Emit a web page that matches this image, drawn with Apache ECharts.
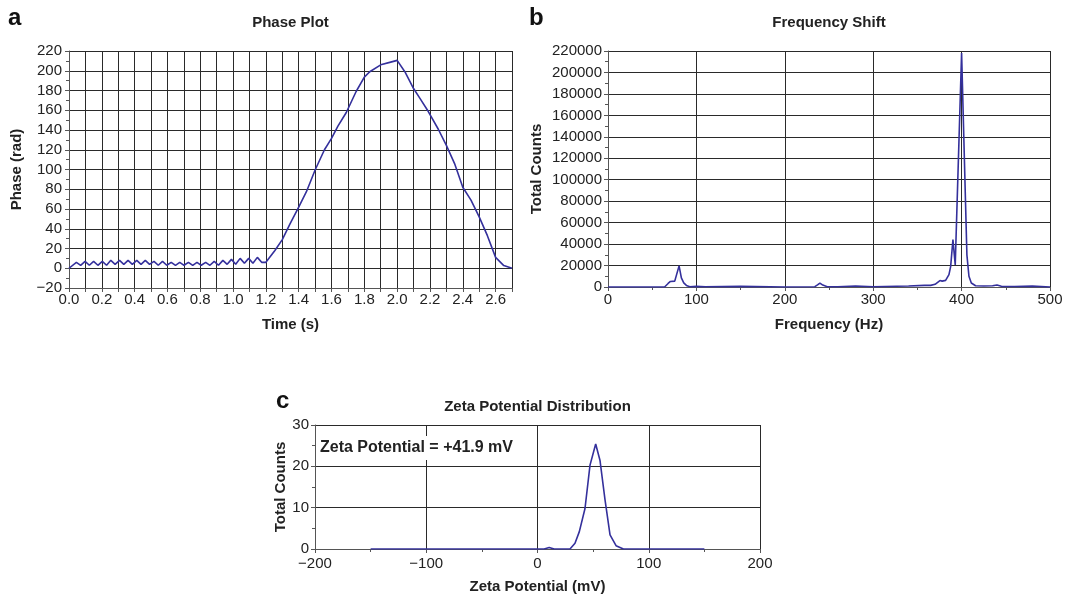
<!DOCTYPE html>
<html>
<head>
<meta charset="utf-8">
<script src="https://cdn.jsdelivr.net/npm/echarts@6/dist/echarts.min.js"></script>
<style>
html,body{margin:0;padding:0;background:#fff;}
#c{width:1071px;height:596px;}
</style>
</head>
<body>
<div id="c"></div>
<script>
// ---- Panel a: Phase Plot ----
const phaseTime = [0, 0.045,0.071, 0.098,0.124, 0.150,0.176, 0.203,0.229, 0.255,0.281, 0.308,0.334, 0.360,0.386, 0.413,0.439, 0.465,0.491, 0.518,0.544, 0.570,0.596, 0.623,0.649, 0.675,0.701, 0.728,0.754, 0.780,0.806, 0.833,0.859, 0.885,0.911, 0.938,0.964, 0.990,1.016, 1.043,1.069, 1.095,1.121, 1.148,1.174, 1.200,
  1.255, 1.300, 1.347, 1.400, 1.447, 1.500, 1.557, 1.600, 1.639, 1.690, 1.750, 1.800, 1.833, 1.900, 1.955, 2.000,
  2.047, 2.100, 2.139, 2.190, 2.250, 2.300, 2.350, 2.400, 2.450, 2.500, 2.550, 2.600, 2.650, 2.700];
const phaseRad = [0, 6,3, 7,3, 7,3, 7,3, 8,4, 8,4, 8,4, 8,4, 8,4, 7,3, 7,3, 6,3, 6,3, 6,3, 6,3, 6,3, 7,3, 8,4, 9,4, 10,5, 10,5, 11,6, 6,
  18, 29, 45, 62, 77.5, 99.5, 120, 131.6, 144, 157.7, 179, 193.6, 199, 206, 208.5, 210.5,
  199, 182, 172, 158.7, 141, 124.5, 106, 82, 69, 52, 33, 11, 2.7, 0];

// ---- Panel b: Frequency Shift ----
const freqHz = [0, 50, 64, 68, 70.6, 72.8, 75.5, 80.4, 83, 85.7, 88.7, 92.5, 100, 110, 150, 200, 234, 237, 239.7, 243, 248, 260, 280, 282, 300, 340, 342,
  358, 365, 370, 375.5, 378, 381.9, 385.7, 387.6, 390.2, 392.8, 400, 406, 408.3, 411, 415.8, 425, 435, 440, 445, 460, 480, 500];
const freqCounts = [0, 0, 0, 3300, 5150, 3900, 5450, 19700, 8500, 3900, 1500, 300, 600, 200, 600, 0, 300, 2000, 3700, 1800, 300, 300, 1000, 300, 200, 1000, 300,
  1500, 1500, 2500, 6000, 5500, 6200, 11500, 19000, 44100, 20500, 218000, 30000, 10000, 3700, 1200, 1000, 1200, 1800, 600, 500, 800, 0];

// ---- Panel c: Zeta Potential Distribution ----
const zetaMv = [-150, 0, 6, 10.5, 15, 29.2, 33.7, 37.6, 42.7, 47.2, 52.3, 56.2, 60.7, 65.2, 70.6, 77.2, 150];
const zetaCounts = [0, 0, 0, 0.35, 0, 0, 1.4, 4.2, 9.8, 20.3, 25.4, 21.4, 11.9, 3.4, 0.8, 0, 0];

const titles = ['Phase Plot', 'Frequency Shift', 'Zeta Potential Distribution'];
const letters = ['a', 'b', 'c'];
const annotation = 'Zeta Potential = +41.9 mV';

const FONT = '"Liberation Sans", Arial, Helvetica, sans-serif';
const LINE = '#34309c';
const GRIDC = '#2a2a2a';
const AXISC = '#555';

function pairs(xs, ys){ return xs.map((x,i)=>[x, ys[i]]); }
function minus(v){ return String(v).replace('-', '\u2212'); }

function axisBase(){
  return {
    type:'value',
    axisLine:{show:true, onZero:false, lineStyle:{color:AXISC, width:1}},
    axisTick:{show:true, inside:false, length:4, lineStyle:{color:AXISC}},
    splitLine:{show:true, lineStyle:{color:GRIDC, width:1}},
    axisLabel:{color:'#222', fontSize:15, fontFamily:FONT},
    nameLocation:'middle',
    nameTextStyle:{fontSize:15, fontWeight:'bold', fontFamily:FONT, color:'#222'}
  };
}
function merge(a,b){
  const o = Object.assign({}, a);
  for (const k in b){
    if (b[k] && typeof b[k]==='object' && !Array.isArray(b[k]) && a[k] && typeof a[k]==='object') o[k] = Object.assign({}, a[k], b[k]);
    else o[k] = b[k];
  }
  return o;
}

const chart = echarts.init(document.getElementById('c'), null, {renderer:'canvas'});
const titleStyle = {fontSize:15, fontWeight:'bold', fontFamily:FONT, color:'#222'};
const letterStyle = {fontSize:24, fontWeight:'bold', fontFamily:FONT, color:'#111'};

chart.setOption({
  animation:false,
  backgroundColor:'#fff',
  title:[
    {text:titles[0], left:290.5, top:15.5, textAlign:'center', padding:0, textStyle:titleStyle},
    {text:titles[1], left:829, top:15.5, textAlign:'center', padding:0, textStyle:titleStyle},
    {text:titles[2], left:537.5, top:399.5, textAlign:'center', padding:0, textStyle:titleStyle},
    {text:letters[0], left:8, top:6, padding:0, textStyle:letterStyle},
    {text:letters[1], left:529, top:6, padding:0, textStyle:letterStyle},
    {text:letters[2], left:276, top:389, padding:0, textStyle:letterStyle},
    {text:annotation, left:316, top:436, padding:[4,4], backgroundColor:'#fff', z:10,
      textStyle:{fontSize:16, fontWeight:'bold', fontFamily:FONT, color:'#222'}}
  ],
  grid:[
    {left:69, top:51, width:443, height:237},
    {left:608, top:51, width:442, height:236},
    {left:315, top:425, width:445, height:124}
  ],
  xAxis:[
    merge(axisBase(), {gridIndex:0, min:0, max:2.7, interval:0.1, name:'Time (s)', nameGap:29,
      axisLabel:{margin:4, formatter:(v,i)=> (i%2===0 ? v.toFixed(1) : '')}}),
    merge(axisBase(), {gridIndex:1, min:0, max:500, interval:100, name:'Frequency (Hz)', nameGap:30,
      minorTick:{show:true, splitNumber:2, length:3, lineStyle:{color:AXISC}},
      axisLabel:{margin:5, formatter:v=>String(v)}}),
    merge(axisBase(), {gridIndex:2, min:-200, max:200, interval:100, name:'Zeta Potential (mV)', nameGap:30,
      minorTick:{show:true, splitNumber:2, length:3, lineStyle:{color:AXISC}},
      axisLabel:{margin:7, formatter:v=>minus(v)}})
  ],
  yAxis:[
    merge(axisBase(), {gridIndex:0, min:-20, max:220, interval:20, name:'Phase (rad)', nameGap:45,
      minorTick:{show:true, splitNumber:2, length:3, lineStyle:{color:AXISC}},
      axisLabel:{margin:7, formatter:v=>minus(v)}}),
    merge(axisBase(), {gridIndex:1, min:0, max:220000, interval:20000, name:'Total Counts', nameGap:64,
      minorTick:{show:true, splitNumber:2, length:3, lineStyle:{color:AXISC}},
      axisLabel:{margin:6, formatter:v=>String(v)}}),
    merge(axisBase(), {gridIndex:2, min:0, max:30, interval:10, name:'Total Counts', nameGap:26,
      minorTick:{show:true, splitNumber:2, length:3, lineStyle:{color:AXISC}},
      axisLabel:{margin:6, formatter:v=>String(v)}})
  ],
  series:[
    {type:'line', xAxisIndex:0, yAxisIndex:0, data:pairs(phaseTime, phaseRad), showSymbol:false, symbol:'none',
      lineStyle:{color:LINE, width:1.6}, z:5},
    {type:'line', xAxisIndex:1, yAxisIndex:1, data:pairs(freqHz, freqCounts), showSymbol:false, symbol:'none',
      lineStyle:{color:LINE, width:1.6}, z:5},
    {type:'line', xAxisIndex:2, yAxisIndex:2, data:pairs(zetaMv, zetaCounts), showSymbol:false, symbol:'none',
      lineStyle:{color:LINE, width:1.6}, z:5}
  ]
});
</script>
</body>
</html>
